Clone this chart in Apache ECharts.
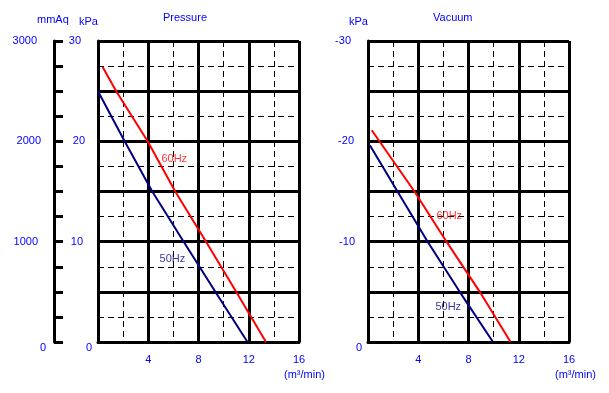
<!DOCTYPE html>
<html>
<head>
<meta charset="utf-8">
<script src="https://cdn.jsdelivr.net/npm/echarts@6/dist/echarts.min.js"></script>
<style>
html,body{margin:0;padding:0;background:#fff;}
#c{width:609px;height:393px;}
</style>
</head>
<body>
<div id="c"></div>
<script>
// ---- data ----
const xTicks = [0, 4, 8, 12, 16];            // m³/min
const pressureTicks = [0, 10, 20, 30];        // kPa
const mmAqTicks = [0, 1000, 2000, 3000];      // mmAq
const vacuumTicks = [-30, -20, -10, 0];       // kPa

const pressure50 = [[0, 25], [2.12, 20], [4.32, 15], [6.82, 10], [9.34, 5], [11.9, 0]];
const pressure60 = [[0.37, 27.4], [1.45, 25], [3.95, 20], [6.15, 15], [8.6, 10], [11.0, 5], [13.37, 0]];
const vacuum50 = [[0.15, -19.6], [2.35, -15], [4.75, -10], [7.3, -5], [9.95, 0]];
const vacuum60 = [[0.3, -21.1], [3.7, -15], [6.25, -10], [8.9, -5], [11.35, 0]];

const pressureLabelAt = { '60Hz': [6.07, 18.24], '50Hz': [5.92, 8.27] };
const vacuumLabelAt = { '60Hz': [6.47, -12.56], '50Hz': [6.39, -3.49] };

// ---- styling ----
const FONT = '"Liberation Sans", Arial, sans-serif';
const FS = 11;
const BLUE = '#0000ff';
const NAVY = '#000080';
const RED = '#ff0000';
const BLACK = '#000000';

function xAxisFor(gridIndex) {
  return {
    type: 'value', gridIndex, min: 0, max: 16, interval: 4,
    axisLine: { show: true, onZero: false, lineStyle: { color: BLACK, width: 3 } },
    axisTick: { show: false },
    axisLabel: {
      color: BLUE, fontFamily: FONT, fontSize: FS, margin: 12,
      formatter: v => (v === 0 ? '' : String(v))
    },
    splitLine: { show: true, lineStyle: { color: BLACK, width: 3, type: 'solid' } },
    minorTick: { show: false, splitNumber: 2 },
    minorSplitLine: { show: true, lineStyle: { color: BLACK, width: 1, type: [6, 4] } }
  };
}

function yGridAxis(gridIndex, min, max, inverse, padMap) {
  const rich = {};
  const keys = Object.keys(padMap);
  keys.forEach((k, i) => {
    rich['p' + i] = { color: BLUE, fontFamily: FONT, fontSize: FS, padding: padMap[k] };
  });
  return {
    type: 'value', gridIndex, min, max, interval: 5, inverse,
    axisLine: { show: true, onZero: false, lineStyle: { color: BLACK, width: 3 } },
    axisTick: { show: false },
    axisLabel: {
      color: BLUE, fontFamily: FONT, fontSize: FS, margin: 6,
      formatter: v => {
        const i = keys.indexOf(String(v));
        return i < 0 ? '' : '{p' + i + '|' + v + '}';
      },
      rich
    },
    splitLine: { show: true, lineStyle: { color: BLACK, width: 3, type: 'solid' } },
    minorTick: { show: false, splitNumber: 2 },
    minorSplitLine: { show: true, lineStyle: { color: BLACK, width: 1, type: [6, 4] } }
  };
}

const kPaLeftPad = {};
kPaLeftPad[pressureTicks[3]] = [0, 11, 0, 0];
kPaLeftPad[pressureTicks[2]] = [0, 7, 0, 0];
kPaLeftPad[pressureTicks[1]] = [0, 9, 0, 0];
kPaLeftPad[pressureTicks[0]] = [12, 0, 0, 0];

const kPaRightPad = {};
kPaRightPad[vacuumTicks[0]] = [0, 11, 0, 0];
kPaRightPad[vacuumTicks[1]] = [0, 8, 0, 0];
kPaRightPad[vacuumTicks[2]] = [0, 7, 0, 0];
kPaRightPad[vacuumTicks[3]] = [12, 0, 0, 0];

const mmAqPad = {};
mmAqPad[mmAqTicks[3]] = [0, 9, 0, 0];
mmAqPad[mmAqTicks[2]] = [0, 5, 0, 0];
mmAqPad[mmAqTicks[1]] = [0, 8, 0, 0];
mmAqPad[mmAqTicks[0]] = [12, 0, 0, 0];

const mmAqRich = {};
const mmAqKeys = Object.keys(mmAqPad);
mmAqKeys.forEach((k, i) => {
  mmAqRich['m' + i] = { color: BLUE, fontFamily: FONT, fontSize: FS, padding: mmAqPad[k] };
});

const mmAqAxis = {
  type: 'value', gridIndex: 0, position: 'left', offset: 44,
  min: 0, max: 3000, interval: 250,
  axisLine: { show: true, onZero: false, lineStyle: { color: BLACK, width: 3 } },
  axisTick: { show: true, inside: true, length: 9, lineStyle: { color: BLACK, width: 3 } },
  axisLabel: {
    color: BLUE, fontFamily: FONT, fontSize: FS, margin: 8,
    formatter: v => {
      const i = mmAqKeys.indexOf(String(v));
      return i < 0 ? '' : '{m' + i + '|' + v + '}';
    },
    rich: mmAqRich
  },
  splitLine: { show: false }
};

function lineSeries(data, color, xi, yi) {
  return {
    type: 'line', data, xAxisIndex: xi, yAxisIndex: yi,
    showSymbol: false, symbol: 'none', smooth: false,
    lineStyle: { color, width: 2 }, z: 5, silent: true
  };
}

function labelSeries(anchors, xi, yi) {
  return {
    type: 'scatter', xAxisIndex: xi, yAxisIndex: yi, symbolSize: 0, silent: true, z: 6,
    data: Object.keys(anchors).map(n => ({
      name: n, value: anchors[n],
      label: { color: n === '60Hz' ? RED : NAVY }
    })),
    label: {
      show: true, position: 'inside', formatter: p => p.name,
      fontFamily: FONT, fontSize: FS
    }
  };
}

function txt(text, left, top) {
  return {
    type: 'text', left, top, silent: true,
    style: { text, fill: BLUE, font: FS + 'px ' + FONT }
  };
}

const option = {
  animation: false,
  backgroundColor: '#ffffff',
  grid: [
    { left: 98, top: 41, width: 201, height: 301, containLabel: false, outerBoundsMode: 'none' },
    { left: 368, top: 41, width: 201, height: 301, containLabel: false, outerBoundsMode: 'none' }
  ],
  xAxis: [xAxisFor(0), xAxisFor(1)],
  yAxis: [
    yGridAxis(0, 0, 30, false, kPaLeftPad),
    yGridAxis(1, -30, 0, true, kPaRightPad),
    mmAqAxis
  ],
  series: [
    lineSeries(pressure50, NAVY, 0, 0),
    lineSeries(pressure60, RED, 0, 0),
    lineSeries(vacuum50, NAVY, 1, 1),
    lineSeries(vacuum60, RED, 1, 1),
    labelSeries(pressureLabelAt, 0, 0),
    labelSeries(vacuumLabelAt, 1, 1)
  ],
  graphic: [
    txt('mmAq', 37, 14),
    txt('kPa', 79, 16),
    txt('Pressure', 163, 12),
    txt('kPa', 349, 16),
    txt('Vacuum', 433, 12),
    txt('(m³/min)', 284, 369),
    txt('(m³/min)', 555, 369)
  ]
};

const chart = echarts.init(document.getElementById('c'), null, { renderer: 'canvas' });
chart.setOption(option);
</script>
</body>
</html>
